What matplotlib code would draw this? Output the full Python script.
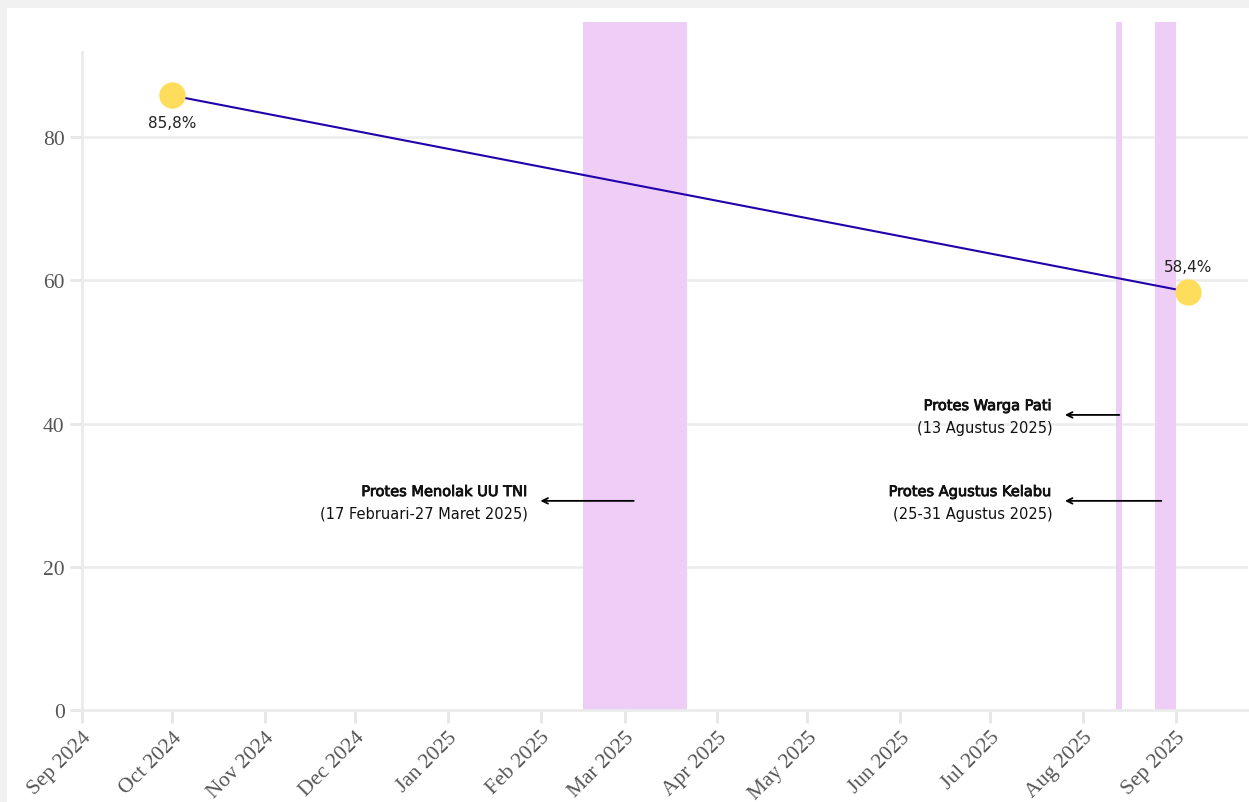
import matplotlib.pyplot as plt
import matplotlib.dates as mdates
import matplotlib.patheffects as pe
from matplotlib.patches import Rectangle
import numpy as np
import datetime as dt

# survey values
survey_dates = [dt.date(2024, 10, 1), dt.date(2025, 9, 5)]
survey_values = [85.8, 58.4]
survey_labels = ["85,8%", "58,4%"]

# protest periods (as drawn)
band_starts = [dt.date(2025, 2, 15), dt.date(2025, 8, 12), dt.date(2025, 8, 25)]
band_ends = [dt.date(2025, 3, 22), dt.date(2025, 8, 14), dt.date(2025, 9, 1)]

# annotations: title, subtitle, arrow tail, arrow head, y
note_titles = ["Protes Menolak UU TNI", "Protes Warga Pati", "Protes Agustus Kelabu"]
note_subs = ["(17 Februari-27 Maret 2025)", "(13 Agustus 2025)", "(25-31 Agustus 2025)"]
note_tail = [dt.date(2025, 3, 5), dt.date(2025, 8, 14), dt.date(2025, 8, 28)]
note_head = [dt.date(2025, 1, 31), dt.date(2025, 7, 25), dt.date(2025, 7, 25)]
note_y = [29.2, 41.2, 29.2]

y_ticks = [0, 20, 40, 60, 80]


def main():
    fig = plt.figure(figsize=(12.49, 8.03), dpi=100, facecolor="#f1f1f1")
    bg = Rectangle((7 / 1249, 0), 1, 1 - 9 / 803, transform=fig.transFigure,
                   facecolor="white", edgecolor="none", zorder=-10)
    fig.add_artist(bg)
    ax = fig.add_axes([82 / 1249, 1 - 711 / 803, (1248 - 82) / 1249, (711 - 23) / 803])
    ax.set_facecolor("none")
    ax.set_zorder(1)

    for s, e in zip(band_starts, band_ends):
        ax.axvspan(mdates.date2num(s), mdates.date2num(e), color="#eecdf7", lw=0, zorder=1)

    for y in y_ticks[1:]:
        ax.axhline(y, color="#ececec", lw=1.8, zorder=0.5)

    xd = mdates.date2num(survey_dates)
    ax.plot(xd, survey_values, color="#2200aa", lw=1.5, zorder=3)
    ax.plot(xd, survey_values, "o", color="#fedd5c", ms=19, mec="none", zorder=4)
    ax.text(xd[0], survey_values[0] - 3.8, survey_labels[0], ha="center", va="center",
            fontsize=11, color="#222222", family="DejaVu Sans")
    ax.text(xd[1], survey_values[1] + 3.5, survey_labels[1], ha="center", va="center",
            fontsize=11, color="#222222", family="DejaVu Sans")

    # semibold look for the note titles
    semi = [pe.withStroke(linewidth=0.6, foreground="#111111")]
    for t, sub, tail, head, y in zip(note_titles, note_subs, note_tail, note_head, note_y):
        hx = mdates.date2num(head)
        ax.annotate("", xy=(hx, y), xytext=(mdates.date2num(tail), y),
                    arrowprops=dict(arrowstyle="->", color="black", lw=1.3), zorder=5)
        ax.text(hx - 3.3, y + 1.3, t, ha="right", va="center", fontsize=10.5,
                color="#111111", family="DejaVu Sans", path_effects=semi)
        ax.text(hx - 3.3, y - 1.7, sub, ha="right", va="center", fontsize=10.5,
                color="#111111", family="DejaVu Sans")

    ax.set_xlim(mdates.date2num(dt.date(2024, 9, 1)), mdates.date2num(dt.date(2025, 9, 25)))
    ax.set_ylim(0, 96.06)
    ax.xaxis.set_major_locator(mdates.MonthLocator())
    ax.xaxis.set_major_formatter(mdates.DateFormatter("%b %Y"))
    ax.set_yticks(y_ticks)

    for side in ["top", "right"]:
        ax.spines[side].set_visible(False)
    ax.spines["left"].set_bounds(0, 91.9)
    ax.spines["left"].set_color("#ebebeb")
    ax.spines["left"].set_linewidth(2)
    ax.spines["bottom"].set_color("#ebebeb")
    ax.spines["bottom"].set_linewidth(2)

    ax.tick_params(axis="both", colors="#e6e6e6", width=2, length=9, labelcolor="#555555",
                   labelsize=15.5)
    for lab in ax.get_xticklabels() + ax.get_yticklabels():
        lab.set_family("Liberation Serif")
    plt.setp(ax.get_xticklabels(), rotation=45, ha="right", rotation_mode="anchor")

    fig.savefig("out.png", dpi=100, facecolor=fig.get_facecolor())


if __name__ == "__main__":
    main()
